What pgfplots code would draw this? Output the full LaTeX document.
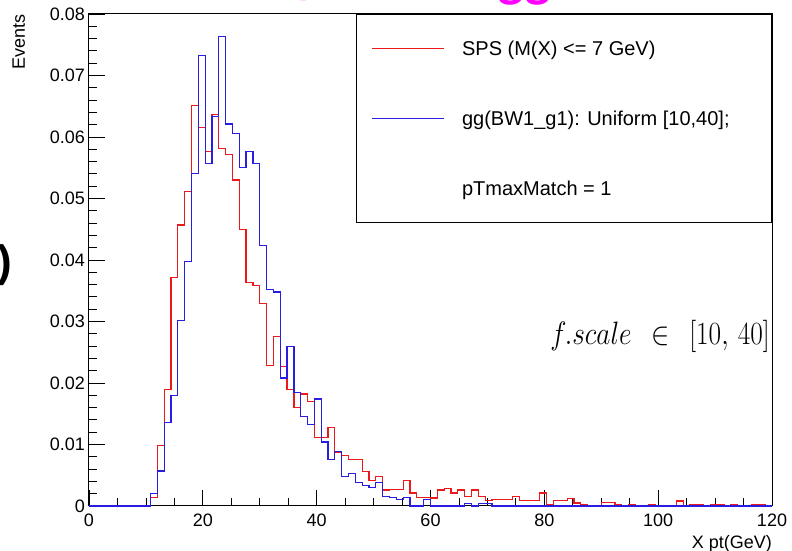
\documentclass[border=0pt]{standalone}
\usepackage{pgfplots}
\pgfplotsset{compat=1.18}
\usepackage{graphicx}
\usepackage{fontspec}
\setmainfont{Liberation Sans}
\newfontfamily\carlito{Carlito}
\definecolor{rootred}{RGB}{235,25,25}
\definecolor{rootblue}{RGB}{40,30,225}
\definecolor{slidemag}{RGB}{255,0,255}
\begin{document}
\begin{tikzpicture}
\useasboundingbox (0,0) rectangle (792pt,551pt);
\begin{axis}[
  at={(89pt,45pt)}, anchor=south west, scale only axis,
  width=683pt, height=492pt,
  xmin=0, xmax=120, ymin=0, ymax=0.08,
  xtick={0,20,40,60,80,100,120}, xticklabels={0,20,40,60,80,100,120},
  ytick={0,0.01,0.02,0.03,0.04,0.05,0.06,0.07,0.08},
  yticklabels={0,0.01,0.02,0.03,0.04,0.05,0.06,0.07,0.08},
  minor x tick num=3, minor y tick num=4,
  tick pos=left, tick align=inside,
  major tick length=16pt, minor tick length=8pt,
  scaled y ticks=false,
  tick label style={font=\fontsize{18}{20}\selectfont},
  xticklabel style={anchor=north, inner sep=0pt, yshift=-8pt},
  yticklabel style={anchor=east, inner sep=0pt, xshift=-4pt},
  label style={font=\fontsize{18}{20}\selectfont},
  xlabel={X pt(GeV)},
  xlabel style={at={(axis description cs:1,-0.0854)}, anchor=base east, inner sep=0pt},
  ylabel={Events},
  ylabel style={at={(axis description cs:-0.0937,1)}, anchor=base east, inner sep=0pt},
  axis line style={line width=1pt},
  every tick/.style={black, line width=0.8pt},
  clip=false,
  legend cell align=left,
  legend style={at={(rel axis cs:1,1)}, anchor=north east, draw=black, line width=0.8pt, fill=white,
    font=\fontsize{20}{24}\selectfont, inner xsep=15pt, inner ysep=25pt,
    row sep=52pt, column sep=17pt,
    nodes={inner sep=0pt, text height=16pt, text depth=2pt}},
  legend image code/.code={\draw[#1] (0pt,0pt) -- (72pt,0pt);},
]
\addplot[const plot, rootred, line width=1.2pt] coordinates {
(0,0)(1.2,0)(2.4,0)(3.6,0)(4.8,0)(6.0,0)(7.2,0)(8.4,0)(9.6,0)
(10.8,0.0014)(12.0,0.0098)(13.2,0.0190)(14.4,0.0371)(15.6,0.0457)(16.8,0.0511)
(18.0,0.0651)(19.2,0.0615)(20.4,0.0576)(21.6,0.0637)(22.8,0.0581)(24.0,0.0572)
(25.2,0.0530)(26.4,0.0449)(27.6,0.0363)(28.8,0.0359)(30.0,0.0329)(31.2,0.0229)
(32.4,0.0276)(33.6,0.0227)(34.8,0.0189)(36.0,0.0160)(37.2,0.0182)(38.4,0.0170)
(39.6,0.0112)(40.8,0.0112)(42.0,0.0127)(43.2,0.0087)(44.4,0.0082)(45.6,0.0075)
(46.8,0.0075)(48.0,0.0056)(49.2,0.0042)(50.4,0.0048)(51.6,0.0026)(52.8,0.0027)
(54.0,0.0027)(55.2,0.0042)(56.4,0.0021)(57.6,0.0014)(58.8,0.0014)(60.0,0.0013)
(61.2,0.0026)(62.4,0.0029)(63.6,0.0021)(64.8,0.0026)(66.0,0.0015)(67.2,0.0026)
(68.4,0.0016)(69.6,0.0009)(70.8,0.0011)(72.0,0.0011)(73.2,0.0011)(74.4,0.0015)
(75.6,0.0009)(76.8,0.0009)(78.0,0.0009)(79.2,0.0021)(80.4,0.0003)(81.6,0.0009)
(82.8,0.0009)(84.0,0.0012)(85.2,0.0005)(86.4,0.0002)(87.6,0)(88.8,0)
(90.0,0.0006)(91.2,0.0006)(92.4,0.0002)(93.6,0)(94.8,0.0003)(96.0,0)
(97.2,0)(98.4,0.0002)(99.6,0)(100.8,0)(102.0,0)(103.2,0.0008)
(104.4,0)(105.6,0.0002)(106.8,0.0002)(108.0,0)(109.2,0.0002)(110.4,0.0002)
(111.6,0)(112.8,0.0002)(114.0,0)(115.2,0)(116.4,0.0002)(117.6,0.0002)
(118.8,0)(120,0)};
\addlegendentry{SPS (M(X) <= 7 GeV)}
\addplot[const plot, rootblue, line width=1.2pt] coordinates {
(0,0)(1.2,0)(2.4,0)(3.6,0)(4.8,0)(6.0,0)(7.2,0)(8.4,0)(9.6,0)
(10.8,0.0020)(12.0,0.0057)(13.2,0.0136)(14.4,0.0180)(15.6,0.0302)(16.8,0.0398)
(18.0,0.0540)(19.2,0.0732)(20.4,0.0557)(21.6,0.0633)(22.8,0.0764)(24.0,0.0621)
(25.2,0.0606)(26.4,0.0550)(27.6,0.0577)(28.8,0.0557)(30.0,0.0423)(31.2,0.0352)
(32.4,0.0348)(33.6,0.0208)(34.8,0.0259)(36.0,0.0184)(37.2,0.0145)(38.4,0.0132)
(39.6,0.0174)(40.8,0.0104)(42.0,0.0075)(43.2,0.0089)(44.4,0.0048)(45.6,0.0053)
(46.8,0.0038)(48.0,0.0033)(49.2,0.0030)(50.4,0.0038)(51.6,0.0016)(52.8,0.0014)
(54.0,0.0011)(55.2,0.0014)(56.4,0)(57.6,0)(58.8,0.0011)(60.0,0)
(61.2,0)(62.4,0)(63.6,0)(64.8,0)(66.0,0.0004)(67.2,0)
(68.4,0.0004)(69.6,0.0004)(70.8,0)(72.0,0)(120,0)};
\addlegendentry{gg(BW1\_g1): Uniform [10,40];\hspace*{27pt}}
\addlegendimage{empty legend}
\addlegendentry{pTmaxMatch = 1}
\end{axis}
\node[anchor=base west, text=slidemag, font=\carlito\bfseries\itshape\fontsize{52}{56}\selectfont, inner sep=0pt] at (298pt,558pt) {y};
\node[anchor=base west, text=slidemag, font=\carlito\bfseries\itshape\fontsize{52}{56}\selectfont, inner sep=0pt] at (500pt,554pt) {gg};
\node[anchor=center, font=\bfseries\fontsize{44}{48}\selectfont, inner sep=0pt] at (5pt,286pt) {)};
\node[anchor=base east, inner sep=0pt] at (770pt,206pt) {\scalebox{1.1}[1.3]{\fontsize{24.88}{30}\selectfont$f.scale\;\,\in\;\,[10,\,40]$}};
\end{tikzpicture}
\end{document}
